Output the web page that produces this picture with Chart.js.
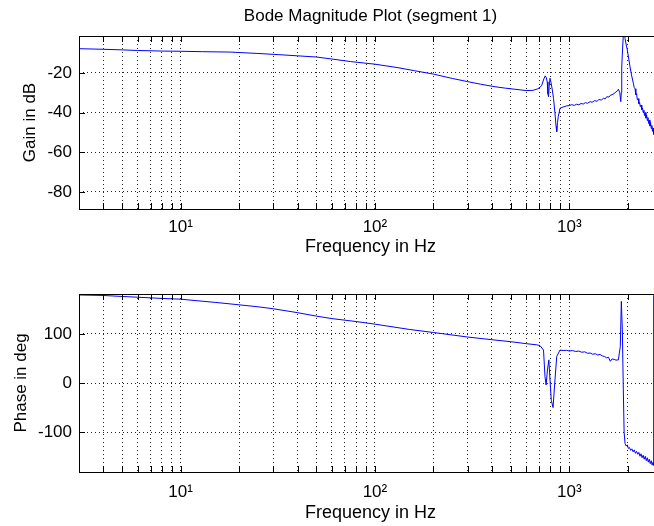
<!DOCTYPE html>
<html>
<head>
<meta charset="utf-8">
<script src="https://cdn.jsdelivr.net/npm/chart.js@4.4.0/dist/chart.umd.min.js"></script>
<style>
  html, body { margin: 0; padding: 0; background: #fff; overflow: hidden; }
  #wrap { position: relative; width: 654px; height: 526px; overflow: hidden; }
  #magChart { position: absolute; left: 0; top: 0; }
  #phaseChart { position: absolute; left: 0; top: 262px; }
</style>
</head>
<body>
<div id="wrap">
  <canvas id="magChart" width="670" height="262"></canvas>
  <canvas id="phaseChart" width="670" height="264"></canvas>
</div>
<script>
// frequency grid (log axis), decade labels
var xTicks = [4, 5, 6, 7, 8, 9, 10, 20, 30, 40, 50, 60, 70, 80, 90,
  100, 200, 300, 400, 500, 600, 700, 800, 900, 1000, 2000];
var decades = [10, 100, 1000];
var decadeLabels = ["10¹", "10²", "10³"];
var magTicks = [-80, -60, -40, -20];
var phaseTicks = [-100, 0, 100];

// magnitude (dB)
var magFreq = [3, 4, 5, 6, 8, 10, 13, 18, 25, 32, 40, 50, 60, 75, 100, 130, 160, 200, 250, 300,
  350, 410, 470, 520, 600, 650, 690, 720, 740, 752, 762, 770, 776, 782, 788, 796, 806, 818, 830, 844,
  855, 862, 870, 878, 896, 930, 970, 1000, 1030, 1060, 1090, 1120, 1150, 1180, 1210, 1240, 1280, 1310,
  1350, 1390, 1420, 1460, 1500, 1530, 1560, 1600, 1630, 1660, 1700, 1740, 1770, 1790, 1820, 1840,
  1852, 1862, 1880, 1897, 1910, 1925, 1936, 1960, 1989, 2020, 2054, 2090, 2136, 2160, 2180, 2200,
  2220, 2240, 2260, 2280, 2300, 2320, 2340, 2360, 2380, 2400, 2420, 2440, 2460, 2480, 2500, 2520,
  2540, 2560, 2580, 2600, 2620, 2640, 2660, 2680, 2700, 2720, 2740, 2760, 2800, 2850, 2900, 3000];
var magGain = [-7.8, -8.1, -8.4, -8.7, -9.0, -9.1, -9.3, -9.5, -10.2, -10.8, -11.4, -12.0, -13.0, -14.3, -15.6, -17.3, -18.9, -20.6, -22.8, -24.4,
  -25.7, -26.9, -27.7, -28.2, -28.9, -28.8, -28.0, -26.5, -23.0, -21.5, -22.5, -24.5, -30.5, -32, -27, -22.7, -25, -28.6, -33, -40.2,
  -47, -49.6, -45, -42, -37.8, -37.2, -36.6, -36.5, -36.0, -36.4, -35.8, -36.1, -35.4, -35.7, -35.0, -35.3, -34.5, -34.8,
  -34.0, -34.3, -33.4, -33.7, -32.8, -33.1, -32.0, -32.2, -31.2, -31.0, -30.4, -29.6, -29.0, -28.2, -30, -34.5,
  -30, -17, -8, -1, 2, 0, -2.6, -5.5, -8.4, -12.5, -16.9, -21, -25.2, -27.5, -28.0, -31.0,
  -30.5, -33.5, -33.0, -35.5, -34.8, -37.0, -36.2, -38.5, -37.6, -40.0, -38.8, -41.5, -40.0, -42.8, -41.2, -44.0,
  -42.5, -45.5, -43.8, -46.8, -45.0, -48.0, -46.5, -49.5, -47.8, -51.0, -49.5, -52.5, -51.5, -54, -53, -56];

// phase (deg)
var phaseFreq = [3, 4, 5, 6, 8, 10, 12, 15, 20, 25, 30, 40, 50, 60, 80, 100, 150, 200, 300, 400,
  500, 600, 681, 707, 737, 750, 760, 772, 785, 796, 808, 825, 844, 862, 896, 930, 970, 1000, 1040, 1080,
  1120, 1160, 1200, 1240, 1280, 1320, 1360, 1400, 1440, 1480, 1520, 1558, 1590, 1627, 1660, 1700, 1740, 1789,
  1830, 1853, 1875, 1897, 1915, 1936, 1960, 1990, 2013, 2040, 2070, 2100, 2130, 2160, 2190, 2220,
  2252, 2280, 2310, 2340, 2370, 2400, 2430, 2460, 2490, 2520, 2550, 2580, 2610, 2640, 2670, 2700,
  2715, 2720, 2800, 2900, 3000];
var phaseDeg = [179, 178, 176, 174.5, 172, 170.5, 167.5, 164, 159, 155, 151, 143, 136, 131, 125, 119.7, 109, 102.7, 93.5, 88,
  84, 80, 77.6, 76, 67, 13, -4, 26.5, 47, 6, -35, -50, 6, 54, 67, 66, 66.5, 65, 66, 64,
  65, 62.5, 63.5, 60.5, 61, 58.5, 59.5, 57, 58, 55, 54, 51, 52.5, 44, 49, 48, 46.5, 47,
  74, 166, 108, -14, -100, -123, -128, -126, -133, -131, -137, -134, -140, -136, -143, -139,
  -145, -141, -149, -144, -152, -147, -155, -149, -158, -152, -161, -155, -164, -158, -167, -161,
  -168, 178, 172, 174, 168];

Chart.defaults.font.family = "'Liberation Sans', Arial, sans-serif";
Chart.defaults.color = "#000";

// MATLAB style box with inward tick marks
var boxPlugin = {
  id: "matlabBox",
  afterDraw: function (chart) {
    var ctx = chart.ctx, a = chart.chartArea, x = chart.scales.x, y = chart.scales.y;
    var len = 6;
    ctx.save();
    ctx.strokeStyle = "#000";
    ctx.lineWidth = 1;
    ctx.beginPath();
    xTicks.forEach(function (v) {
      var px = Math.round(x.getPixelForValue(v)) + 0.5;
      ctx.moveTo(px, a.bottom); ctx.lineTo(px, a.bottom - len);
      ctx.moveTo(px, a.top); ctx.lineTo(px, a.top + len);
    });
    y.ticks.forEach(function (t) {
      var py = Math.round(y.getPixelForValue(t.value)) + 0.5;
      ctx.moveTo(a.left, py); ctx.lineTo(a.left + len, py);
      ctx.moveTo(a.right, py); ctx.lineTo(a.right - len, py);
    });
    ctx.stroke();
    ctx.strokeRect(Math.round(a.left) + 0.5, Math.round(a.top) + 0.5,
      Math.round(a.right - a.left), Math.round(a.bottom - a.top));
    ctx.restore();
  }
};

function points(fs, vs) {
  return fs.map(function (f, i) { return { x: f, y: vs[i] }; });
}

function makeChart(id, cfg) {
  return new Chart(document.getElementById(id), {
    type: "line",
    data: {
      datasets: [{
        data: points(cfg.freq, cfg.vals),
        borderColor: "rgb(0, 0, 255)",
        borderWidth: 1,
        pointRadius: 0,
        tension: 0
      }]
    },
    options: {
      responsive: false,
      animation: false,
      layout: { padding: { left: 0, right: 8, top: cfg.padTop, bottom: 0 } },
      plugins: {
        legend: { display: false },
        tooltip: { enabled: false },
        title: {
          display: !!cfg.title,
          text: cfg.title || "",
          fullSize: false,
          font: { size: 17, weight: "normal" },
          padding: { top: 6, bottom: 9.6 }
        }
      },
      scales: {
        x: {
          type: "logarithmic",
          min: 3,
          max: 3000,
          afterBuildTicks: function (s) { s.ticks = xTicks.map(function (v) { return { value: v }; }); },
          afterFit: function (s) { s.height = cfg.xHeight; },
          ticks: {
            autoSkip: false,
            maxRotation: 0,
            minRotation: 0,
            padding: cfg.xTickPad,
            font: { size: 17 },
            callback: function (v) {
              var k = decades.indexOf(v);
              return k >= 0 ? decadeLabels[k] : "";
            }
          },
          grid: { color: "rgba(0,0,0,0.85)", drawTicks: false },
          border: { display: false, dash: [1, 3] },
          title: {
            display: true,
            text: "Frequency in Hz",
            font: { size: 18 },
            padding: { top: 0, bottom: cfg.xTitlePad }
          }
        },
        y: {
          min: cfg.yMin,
          max: cfg.yMax,
          afterBuildTicks: function (s) { s.ticks = cfg.yTicks.map(function (v) { return { value: v }; }); },
          afterFit: function (s) { s.width = 79; },
          ticks: { padding: 7, font: { size: 17 } },
          grid: { color: "rgba(0,0,0,0.85)", drawTicks: false },
          border: { display: false, dash: [1, 3] },
          title: {
            display: true,
            text: cfg.yTitle,
            font: { size: 17 },
            padding: { top: cfg.yTitlePad, bottom: 0 }
          }
        }
      }
    },
    plugins: [boxPlugin]
  });
}

makeChart("magChart", {
  freq: magFreq, vals: magGain, title: "Bode Magnitude Plot (segment 1)",
  padTop: 0, xHeight: 53, xTickPad: 8, xTitlePad: 4,
  yMin: -88.6, yMax: -1.4, yTicks: magTicks, yTitle: "Gain in dB", yTitlePad: 20
});

makeChart("phaseChart", {
  freq: phaseFreq, vals: phaseDeg, title: "",
  padTop: 32, xHeight: 54, xTickPad: 10, xTitlePad: 2,
  yMin: -181, yMax: 181, yTicks: phaseTicks, yTitle: "Phase in deg", yTitlePad: 11
});
</script>
</body>
</html>
